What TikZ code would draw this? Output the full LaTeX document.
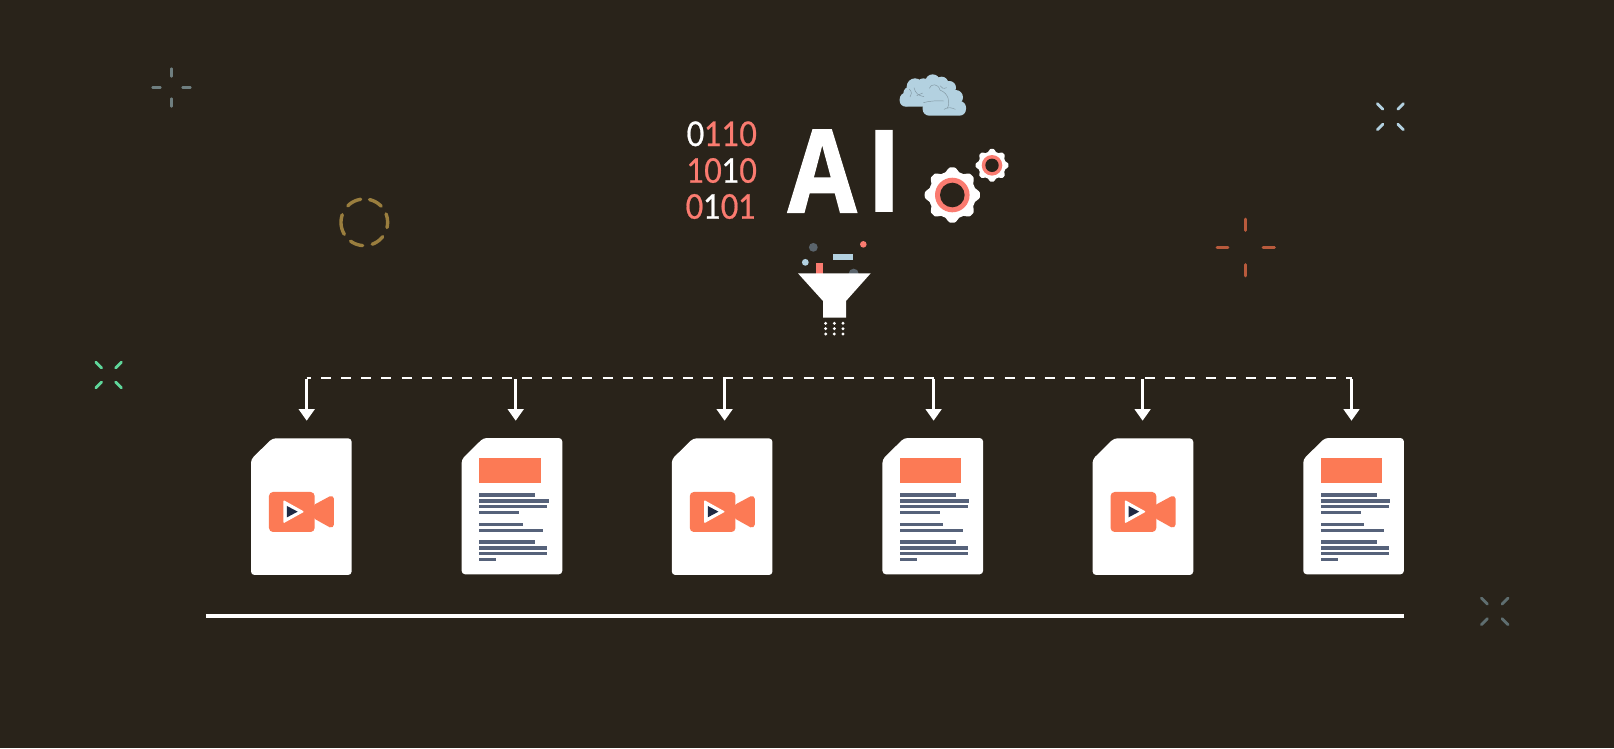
\documentclass[tikz,border=0pt]{standalone}
\usepackage{fontspec}
\setmainfont{Lato}
\newfontfamily\aifont{Open Sans}
\newfontfamily\afont[UprightFont=* Bold,FakeBold=1.2]{Open Sans}
\newfontfamily\binfont[FakeBold=0.7]{Lato}
\usetikzlibrary{arrows.meta}
\definecolor{bgc}{HTML}{29231A}
\definecolor{coral}{HTML}{FA7B70}
\definecolor{orangec}{HTML}{FC7A55}
\definecolor{skyc}{HTML}{B3D1E0}
\definecolor{slatec}{HTML}{56627A}
\definecolor{navyc}{HTML}{1F2A44}
\definecolor{greyc}{HTML}{5A646C}
\definecolor{tickgrey}{HTML}{6F7F80}
\definecolor{tickrust}{HTML}{B85A3C}
\definecolor{tickgreen}{HTML}{5FD69A}
\definecolor{tickdark}{HTML}{5F6E70}
\definecolor{ringc}{HTML}{9A7E3E}
\tikzset{
  docpage/.style={fill=white,rounded corners=3.5pt},
  textbar/.style={fill=slatec},
  conn/.style={white,line width=2.6pt},
  dashconn/.style={white,line width=2.2pt,dash pattern=on 10pt off 10.1pt,dash phase=5.7pt},
  arrowconn/.style={conn,-{Triangle[width=15.5pt,length=11.5pt]}},
  tick/.style={line width=2.8pt,line cap=round},
  binary/.style={anchor=base west,inner sep=0pt},
  gearfill/.style={fill=white},
}
\newcommand{\bindigits}[1]{\scalebox{0.89}[1]{\binfont\fontsize{34}{34}\selectfont #1}}
\newcommand{\gearshape}[5]{%
  \fill[gearfill] plot[domain=0:360,samples=241]
    ({#1+((#3+#4)/2+(#3-#4)/2*max(-1,min(1,1.35*cos(8*\x))))*cos(\x)},{#2+((#3+#4)/2+(#3-#4)/2*max(-1,min(1,1.35*cos(8*\x))))*sin(\x)}) -- cycle;
  \fill[coral] (#1,#2) circle (#5);
}
\begin{document}
\begin{tikzpicture}[x=1pt,y=-1pt]
\useasboundingbox (0,0) rectangle (1614,748);
\fill[bgc] (0,0) rectangle (1614,748);

% decorative ticks
\foreach \a/\b/\c/\d in {152.5/87.3/160.5/87.3,182.5/87.3/190.5/87.3,171.3/68.5/171.3/76.5,171.3/98.5/171.3/106.5}
  \draw[tick,color=tickgrey,line width=2.4pt] (\a,\b) -- (\c,\d);
\foreach \a/\b/\c/\d in {1217/247.3/1228/247.3,1263/247.3/1274.5/247.3,1245.3/219/1245.3/230.5,1245.3/264.5/1245.3/276}
  \draw[tick,color=tickrust] (\a,\b) -- (\c,\d);
\foreach \sx/\sy in {-1/-1,1/-1,-1/1,1/1}{
  \draw[tick,color=skyc] (1390.3+7.5*\sx,116.7+7.5*\sy) -- (1390.3+13*\sx,116.7+13*\sy);
  \draw[tick,color=tickgreen] (108.7+7*\sx,375+7*\sy) -- (108.7+12.8*\sx,375+12.8*\sy);
  \draw[tick,color=tickdark] (1494.7+7.3*\sx,611.3+7.3*\sy) -- (1494.7+13.3*\sx,611.3+13.3*\sy);
}
% dashed ring
\foreach \s/\e in {99/135,44/77,-13/21,-70/-38,-126/-94,-199/-149}
  \draw[color=ringc,line width=3.4pt,line cap=round]
    plot[domain=\s:\e,samples=12,smooth] ({364.3+23.3*cos(\x)},{222.3-23.3*sin(\x)});

% binary digits
\node[binary] (b1) at (686.5,146) {\bindigits{\textcolor{white}{0}\textcolor{coral}{110}}};
\node[binary] (b2) at (686.5,182.7) {\bindigits{\textcolor{coral}{10}\textcolor{white}{1}\textcolor{coral}{0}}};
\node[binary] (b3) at (685.5,218.7) {\bindigits{\textcolor{coral}{0}\textcolor{white}{1}\textcolor{coral}{01}}};

% AI
\node[anchor=base west,inner sep=0pt,text=white] (ai) at (787.5,212.3)
  {\fontsize{115}{115}\selectfont\scalebox{0.87}[1]{\afont A}\hspace{9pt}{\aifont\bfseries I}};

% brain cloud
\begin{scope}[shift={(890,65)},x=0.3333pt,y=-0.3333pt]
  \fill[skyc] (128,50) circle (22) (75,65) circle (25) (100,60) circle (20) (155,55) circle (20) (178,68) circle (20)
    (197,97) circle (22) (50,103) circle (21) (60,85) circle (20);
  \fill[skyc] (62,55) rectangle (190,124);
  \fill[skyc,rounded corners=6.5pt] (98,108) rectangle (228,152);
  \fill[skyc,rounded corners=6pt] (29,90) rectangle (120,125);
  \begin{scope}[draw=skyc!72!black,line width=0.45pt]
    \draw (58,72) .. controls (66,80) and (66,90) .. (60,96);
    \draw (72,68) .. controls (76,85) and (85,92) .. (102,95);
    \draw (80,92) -- (98,84);
    \draw (118,70) .. controls (122,55) and (145,55) .. (150,75);
    \draw (150,75) .. controls (175,85) and (182,110) .. (172,130);
    \draw (100,113) .. controls (120,107) and (145,107) .. (162,108);
    \draw (150,62) .. controls (155,70) and (160,72) .. (170,68);
    \draw (162,133) .. controls (175,125) and (185,128) .. (196,133);
  \end{scope}
\end{scope}

% gears
\gearshape{952.3}{195}{27.6}{23.6}{17.3}
\fill[bgc] (952.3,195) circle (12.3);
\gearshape{992}{165.3}{16.4}{13.8}{10.3}
\fill[bgc] (992,165.3) circle (6.7);

% funnel with particles
\begin{scope}[shift={(760,225)},x=0.3333pt,y=-0.3333pt]
  \fill[greyc] (160,67) circle (4.4pt);
  \fill[coral] (310,58) circle (3.3pt);
  \fill[skyc] (136,112) circle (3.4pt);
  \fill[skyc] (220,87) rectangle (280,104);
  \fill[coral] (169,115) rectangle (190,146);
  \fill[greyc] (281,146) circle (5pt);
  \fill[white] (114,145) -- (332,145) -- (258,228) -- (258,278) -- (189,278) -- (189,228) -- cycle;
  \foreach \px in {197,223,249} \foreach \py in {295,311,327}
    \fill[white] (\px,\py) circle (1.6pt);
\end{scope}

% connector hub and arrow ends
\foreach \k/\ax in {1/306.7,2/515.7,3/724.6,4/933.6,5/1142.6,6/1351.5}{
  \coordinate (hub\k) at (\ax,377.7);
  \coordinate (stem\k) at (\ax,379.2);
  \coordinate (tip\k) at (\ax,420.7);
}
\draw[dashconn] (hub1) -- (hub6);
\foreach \k in {1,...,6} \draw[arrowconn] (stem\k) -- (tip\k);

% video documents
\foreach \dx in {0,420.8,841.6}{
\begin{scope}[shift={(235+\dx,370)},x=0.3333pt,y=-0.3333pt]
  \fill[docpage] (48,268) -- (112,205) -- (350,205) -- (350,615) -- (48,615) -- cycle;
  \fill[orangec,rounded corners=4pt] (102,366) rectangle (239,486);
  \fill[orangec,rounded corners=1.5pt] (236,405) -- (288,377) -- (297,382) -- (297,468) -- (288,474) -- (236,445) -- cycle;
  \fill[white,rounded corners=1pt] (145,390) -- (208,425) -- (145,460) -- cycle;
  \fill[navyc] (156,408) -- (188,425) -- (156,442) -- cycle;
\end{scope}}

% text documents
\foreach \dx in {0,420.8,841.6}{
\begin{scope}[shift={(235+\dx,370)},x=0.3333pt,y=-0.3333pt]
  \fill[docpage] (680,268) -- (745,204) -- (982,204) -- (982,613) -- (680,613) -- cycle;
  \fill[orangec] (732,264) rectangle (917,340);
  \foreach \ly/\lx in {375/901,393/941,410/937,428/852,464/863,481/923,516/901,534/937,551/937,568/784}
    \fill[textbar] (732,\ly-5) rectangle (\lx,\ly+5);
\end{scope}}

% base line
\coordinate (baseL) at (205.9,616);
\coordinate (baseR) at (1404,616);
\draw[white,line width=3.4pt] (baseL) -- (baseR);
\end{tikzpicture}
\end{document}
